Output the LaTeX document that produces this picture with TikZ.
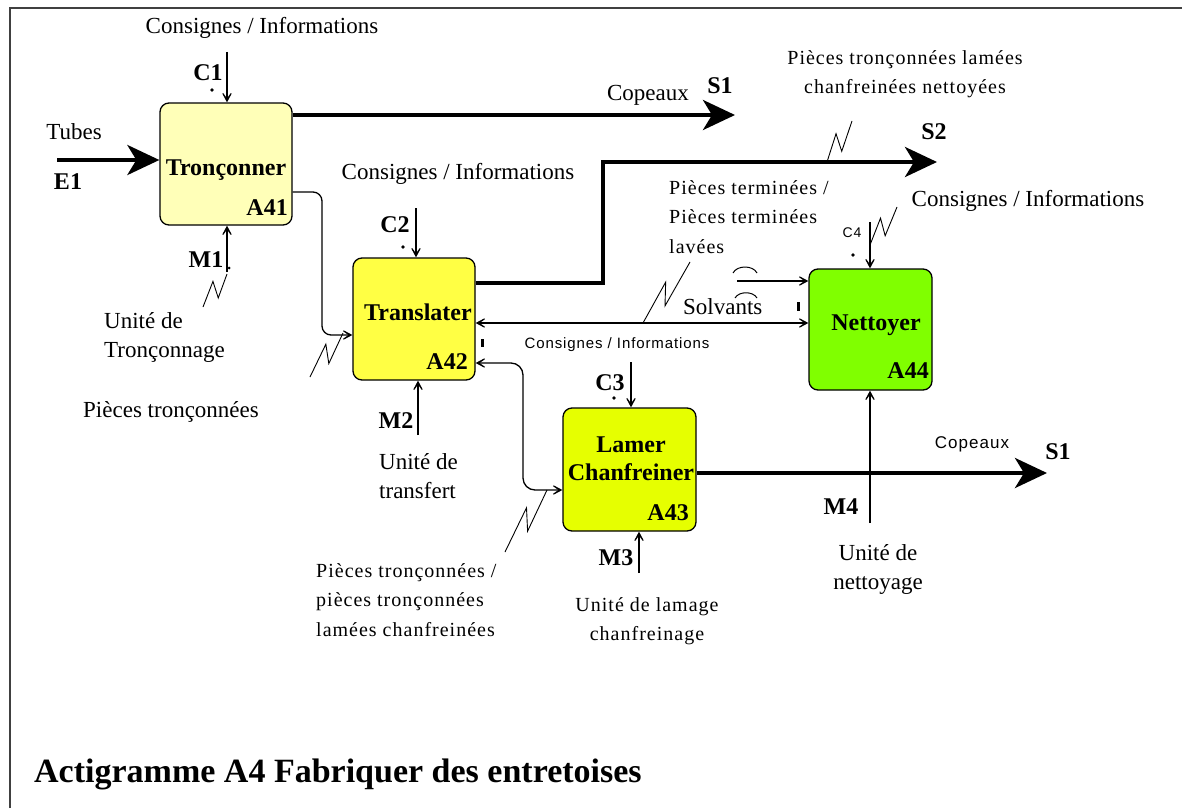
\documentclass[tikz,border=0pt]{standalone}
\usepackage{fontspec}
\setmainfont{Liberation Serif}
\newfontfamily\spacedserif[LetterSpace=5]{Liberation Serif}
\newfontfamily\spacedsans[LetterSpace=6]{Liberation Sans}
\usetikzlibrary{arrows.meta,calc}

\definecolor{paleyellow}{HTML}{FFFFB8}
\definecolor{brightyellow}{HTML}{FFFF44}
\definecolor{limeyellow}{HTML}{E6FF00}
\definecolor{brightgreen}{HTML}{80FF00}

% lightning-shaped leader from an arrow (#1) to its label (#2)
\newcommand\bolt[2]{%
  \path ($(#1)!0.6!(#2)$) coordinate (bx) ($(#1)!0.35!(#2)$) coordinate (by);
  \draw[zigline] (#1) -- ($(bx)!7pt!90:(#2)$) -- ($(by)!7pt!-90:(#2)$) -- (#2);}

\begin{document}
\begin{tikzpicture}[x=1pt,y=-1pt,
  box/.style={draw, line width=1.3pt, rounded corners=9pt, inner sep=0pt},
  lbl/.style={font=\fontsize{23}{29}\selectfont, inner sep=0pt},
  bl/.style={font=\fontsize{24}{29}\selectfont\bfseries, inner sep=0pt},
  sp/.style={font=\fontsize{20}{29.5}\selectfont\spacedserif, inner sep=0pt},
  ss/.style={font=\fontsize{15}{18}\selectfont\spacedsans, inner sep=0pt},
  thin/.style={line width=1.3pt, -{Stealth[length=15pt,width=16pt,inset=11pt]}},
  both/.style={line width=1.3pt, {Stealth[length=15pt,width=16pt,inset=11pt]}-{Stealth[length=15pt,width=16pt,inset=11pt]}},
  thick/.style={line width=4pt, -{Stealth[length=32pt,width=30pt,inset=9pt]}},
  zigline/.style={line width=0.9pt},
  dotmark/.style={fill=black},
]
\useasboundingbox (0,0) rectangle (1182,808);

% frame
\draw[line width=2pt, black!75] (9.5,808) -- (9.5,8) -- (1182,8);

% activity boxes
\node[box, fill=paleyellow, minimum width=132pt, minimum height=122pt] (A41) at (226,164) {};
\node[box, fill=brightyellow, minimum width=122pt, minimum height=122pt] (A42) at (414,319) {};
\node[box, fill=limeyellow, minimum width=133pt, minimum height=123pt] (A43) at (629.5,469.5) {};
\node[box, fill=brightgreen, minimum width=123pt, minimum height=121pt] (A44) at (870.5,329.5) {};

\node[bl] (n41) at (226,170) {Tronçonner};
\node[bl, anchor=east] (id41) at (288,208) {A41};
\node[bl] (n42) at (418,312) {Translater};
\node[bl, anchor=east] (id42) at (468,362) {A42};
\node[bl, align=center] (n43) at (631,459) {Lamer\\[-1pt]Chanfreiner};
\node[bl, anchor=east] (id43) at (689,513) {A43};
\node[bl] (n44) at (876,325) {Nettoyer};
\node[bl, anchor=east] (id44) at (929,371) {A44};

% free ends of the arrows
\coordinate (c1) at (227,52);
\coordinate (m1) at (227,272);
\coordinate (e1) at (57,160);
\coordinate (s1a) at (735,115);
\coordinate (c2) at (416,208);
\coordinate (m2) at (418,435);
\coordinate (s2) at (937,162);
\coordinate (solv) at (737,281);
\coordinate (c3) at (631,362);
\coordinate (m3) at (639,573);
\coordinate (s1b) at (1047,473);
\coordinate (c4) at (870,222);
\coordinate (m4) at (870,523);

% A41
\draw[thin] (c1) -- (c1 |- A41.north);
\draw[thin] (m1) -- (m1 |- A41.south);
\draw[thick] (e1) -- (e1 -| A41.west);
\draw[thick] (A41.east |- s1a) -- (s1a);
\draw[thin, rounded corners=9pt] (A41.east |- 0,192) -- (322,192) -- (322,335) -- (A42.west |- 0,335);

% A42
\draw[thin] (c2) -- (c2 |- A42.north);
\draw[thin] (m2) -- (m2 |- A42.south);
\draw[thick, line join=miter] (A42.east |- 0,283) -- (603,283) -- (603,162) -- (s2);
\draw[both] (A42.east |- 0,323) -- (A44.west |- 0,323);
\draw[both, rounded corners=12pt] (A42.east |- 0,363) -- (523,363) -- (523,490) -- (A43.west |- 0,490);

% A43
\draw[thin] (c3) -- (c3 |- A43.north);
\draw[thin] (m3) -- (m3 |- A43.south);
\draw[thick] (A43.east |- s1b) -- (s1b);

% A44
\draw[thin] (c4) -- (c4 |- A44.north);
\draw[thin] (solv) -- (solv -| A44.west);
\draw[thin] (m4) -- (m4 |- A44.south);

% tunnel marks on the solvent arrow
\draw[line width=1pt] (733,273) .. controls (737,265) and (753,265) .. (757,273);
\draw[line width=1pt] (735,298) .. controls (739,291) and (753,291) .. (757,298);

% small dots
\fill[dotmark] (212,90) circle (1.8pt);
\fill[dotmark] (229,268) circle (1.5pt);
\fill[dotmark] (403,247) circle (1.8pt);
\fill[dotmark] (614,398) circle (1.8pt);
\fill[dotmark] (853,255) circle (1.8pt);
\fill[dotmark] (481,339) rectangle (484,347);
\fill[dotmark] (797,302) rectangle (800,311);

% leaders
\coordinate (z1a) at (227,274); \coordinate (z1b) at (203,307);
\coordinate (z2a) at (343,333); \coordinate (z2b) at (310,377);
\coordinate (z3a) at (827,162); \coordinate (z3b) at (852,121);
\coordinate (z4a) at (870,245); \coordinate (z4b) at (897,207);
\coordinate (z5a) at (643,323); \coordinate (z5b) at (690,262);
\coordinate (z6a) at (547,490); \coordinate (z6b) at (505,552);
\bolt{z1a}{z1b}
\bolt{z2a}{z2b}
\bolt{z3a}{z3b}
\bolt{z4a}{z4b}
\bolt{z5a}{z5b}
\bolt{z6a}{z6b}

% labels
\node[lbl] (tc1) at (262,28) {Consignes / Informations};
\node[bl] (lc1) at (208,73) {C1};
\node[lbl] (te1) at (74,132) {Tubes};
\node[bl] (le1) at (68,182) {E1};
\node[lbl] (ts1a) at (648,95) {Copeaux};
\node[bl] (ls1a) at (720,86) {S1};
\node[lbl, align=left, anchor=west] (tm1) at (104,337) {Unité de\\Tronçonnage};
\node[bl] (lm1) at (206,260) {M1};
\node[lbl] (tpt) at (171,412) {Pièces tronçonnées};

\node[lbl] (tc2) at (458,174) {Consignes / Informations};
\node[bl] (lc2) at (395,225) {C2};
\node[bl] (lm2) at (396,421) {M2};
\node[lbl, align=left, anchor=west] (tm2) at (379,476) {Unité de\\transfert};

\node[sp, align=center] (ts2) at (905,74) {Pièces tronçonnées lamées\\chanfreinées nettoyées};
\node[bl] (ls2) at (934,132) {S2};
\node[sp, align=left, anchor=west] (tret) at (669,217) {Pièces terminées /\\Pièces terminées\\lavées};
\node[lbl, anchor=west] (tsolv) at (683,307) {Solvants};

\node[ss] (tc3) at (617,345) {Consignes / Informations};
\node[bl] (lc3) at (610,383) {C3};
\node[bl] (lm3) at (616,558) {M3};
\node[sp, align=center] (tm3) at (647,621) {Unité de lamage\\chanfreinage};
\node[sp, align=left, anchor=west] (tin3) at (316,600) {Pièces tronçonnées /\\pièces tronçonnées\\lamées chanfreinées};
\node[ss, font=\fontsize{17}{20}\selectfont\spacedsans] (ts1b) at (972,444) {Copeaux};
\node[bl] (ls1b) at (1058,452) {S1};

\node[ss, font=\fontsize{14}{17}\selectfont\spacedsans] (lc4) at (852,233) {C4};
\node[lbl] (tc4) at (1028,201) {Consignes / Informations};
\node[bl] (lm4) at (841,507) {M4};
\node[lbl, align=center] (tm4) at (878,569) {Unité de\\nettoyage};

\node[font=\fontsize{34}{40}\selectfont\bfseries, anchor=base west, inner sep=0pt] (title) at (34,782) {Actigramme A4 Fabriquer des entretoises};
\end{tikzpicture}
\end{document}
